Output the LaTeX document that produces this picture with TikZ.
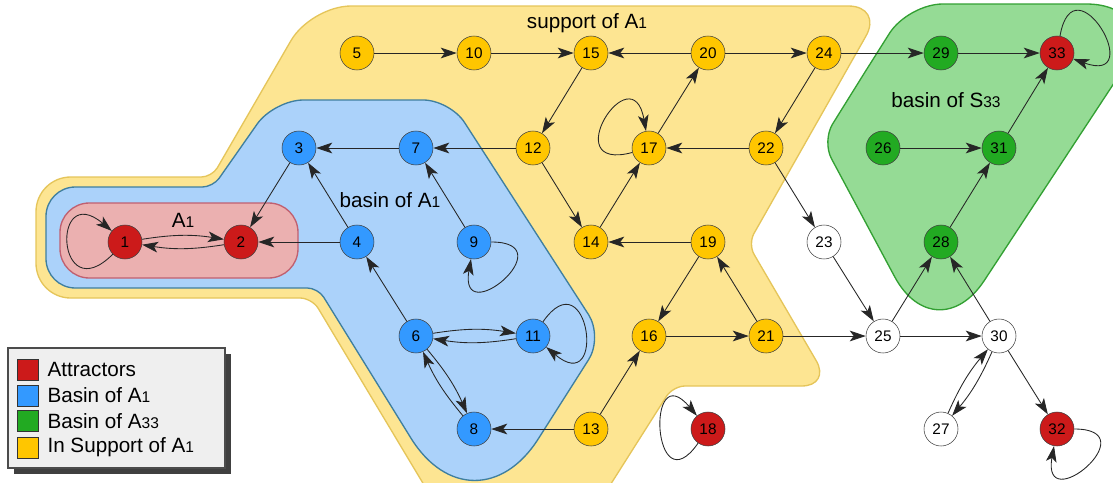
\documentclass[tikz,border=0pt]{standalone}
\usepackage{fontspec}
\usepackage{graphicx}
\setmainfont{Liberation Sans}
\usetikzlibrary{arrows.meta}
\definecolor{attred}{HTML}{CC1A1A}
\definecolor{basblue}{HTML}{3399FF}
\definecolor{grngreen}{HTML}{22AA22}
\definecolor{supyellow}{HTML}{FFC600}
\definecolor{attarea}{HTML}{EBB0B0}
\definecolor{attline}{HTML}{C06070}
\definecolor{basarea}{HTML}{ABD2FA}
\definecolor{basline}{HTML}{3F7F9F}
\definecolor{suparea}{HTML}{FDE592}
\definecolor{supline}{HTML}{E5C55A}
\definecolor{grnarea}{HTML}{95DB95}
\definecolor{grnline}{HTML}{33A033}
\definecolor{legbg}{HTML}{EFEFEF}
\newcommand{\sbs}[1]{{\scalebox{0.75}{#1}}}

\begin{document}
\begin{tikzpicture}[x=0.75pt, y=-0.75pt, >={Stealth[length=12pt,width=8pt,inset=3pt]},
    state/.style={circle, draw=black!75, minimum size=25.5pt, inner sep=0pt, font=\fontsize{11.5}{12}\selectfont},
    att/.style={state, fill=attred},
    bas/.style={state, fill=basblue},
    grn/.style={state, fill=grngreen},
    sup/.style={state, fill=supyellow},
    free/.style={state, fill=white},
    lbl/.style={font=\fontsize{15.5}{16}\selectfont},
    key/.style={draw=black!80, minimum size=15.75pt, inner sep=0pt},
    keytext/.style={font=\fontsize{15.5}{16}\selectfont, inner sep=0pt},
    every edge/.append style={line width=0.65pt, black!85}]
  \useasboundingbox (0,0) rectangle (1113,482);

  \draw[fill=suparea, draw=supline, line width=1pt]
    (36,240) [rounded corners=26pt] -- (36,177) [rounded corners=8pt] -- (212,177)
    [rounded corners=30pt] -- (311,6) [rounded corners=26pt] -- (883,6)
    [rounded corners=9pt] -- (748,244) [rounded corners=22pt] -- (831,386)
    [rounded corners=9pt] -- (673,386) [sharp corners] -- (588,520) -- (445,520)
    [rounded corners=9pt] -- (312,298) [rounded corners=26pt] -- (36,298) [sharp corners] -- cycle;
  \draw[fill=basarea, draw=basline, line width=1pt]
    (46,240) [rounded corners=22pt] -- (46,187) [rounded corners=8pt] -- (213,187)
    [rounded corners=22pt] -- (274,100) [rounded corners=20pt] -- (450,100)
    [rounded corners=20pt] -- (603,337) [rounded corners=90pt] -- (474,540)
    [rounded corners=8pt] -- (318,288) [rounded corners=22pt] -- (46,288) [sharp corners] -- cycle;
  \draw[fill=attarea, draw=attline, line width=1pt, rounded corners=22pt] (60,203) rectangle (298,278);
  \draw[fill=grnarea, draw=grnline, line width=1pt]
    (865,72) [rounded corners=26pt] -- (908,4) [rounded corners=60pt] -- (1166,4)
    [rounded corners=66pt] -- (936,354) [rounded corners=15pt] -- (822,141) [sharp corners] -- cycle;

  \node [lbl] (tsup) at (587,23) {support of A\sbs{1}};
  \node [lbl] (tbas) at (390,200) {basin of A\sbs{1}};
  \node [lbl] (tatt) at (183,220) {A\sbs{1}};
  \node [lbl] (tgrn) at (946,100) {basin of S\sbs{33}};

  \node [att] (n1) at (125,242) {1};
  \node [att] (n2) at (241,242) {2};
  \node [bas] (n3) at (299,148) {3};
  \node [bas] (n4) at (357,242) {4};
  \node [sup] (n5) at (357,53) {5};
  \node [bas] (n6) at (416,336) {6};
  \node [bas] (n7) at (416,148) {7};
  \node [bas] (n8) at (474,429) {8};
  \node [bas] (n9) at (474,242) {9};
  \node [sup] (n10) at (474,53) {10};
  \node [bas] (n11) at (533,336) {11};
  \node [sup] (n12) at (533,148) {12};
  \node [sup] (n13) at (591,429) {13};
  \node [sup] (n14) at (591,242) {14};
  \node [sup] (n15) at (591,53) {15};
  \node [sup] (n16) at (649,336) {16};
  \node [sup] (n17) at (649,148) {17};
  \node [att] (n18) at (708,429) {18};
  \node [sup] (n19) at (708,242) {19};
  \node [sup] (n20) at (708,53) {20};
  \node [sup] (n21) at (766,336) {21};
  \node [sup] (n22) at (766,148) {22};
  \node [free] (n23) at (824,242) {23};
  \node [sup] (n24) at (824,53) {24};
  \node [free] (n25) at (883,336) {25};
  \node [grn] (n26) at (883,148) {26};
  \node [free] (n27) at (941,429) {27};
  \node [grn] (n28) at (941,242) {28};
  \node [grn] (n29) at (941,53) {29};
  \node [free] (n30) at (999,336) {30};
  \node [grn] (n31) at (999,148) {31};
  \node [att] (n32) at (1057,429) {32};
  \node [att] (n33) at (1057,53) {33};

  \path[->] (n1) edge [loop, out=225, in=140, distance=60pt] (n1);
  \path[->] (n1) edge [bend left=9] (n2);
  \path[->] (n2) edge [bend left=9] (n1);
  \path[->] (n3) edge (n2);
  \path[->] (n4) edge (n2);
  \path[->] (n4) edge (n3);
  \path[->] (n6) edge (n4);
  \path[->] (n7) edge (n3);
  \path[->] (n9) edge (n7);
  \path[->] (n9) edge [loop, out=0, in=260, distance=56pt] (n9);
  \path[->] (n6) edge [bend left=9] (n11);
  \path[->] (n11) edge [bend left=9] (n6);
  \path[->] (n11) edge [loop, out=55, in=320, distance=60pt] (n11);
  \path[->] (n6) edge [bend left=8] (n8);
  \path[->] (n8) edge [bend left=8] (n6);
  \path[->] (n13) edge (n8);
  \path[->] (n13) edge (n16);
  \path[->] (n12) edge (n7);
  \path[->] (n12) edge (n14);
  \path[->] (n15) edge (n12);
  \path[->] (n5) edge (n10);
  \path[->] (n10) edge (n15);
  \path[->] (n20) edge (n15);
  \path[->] (n14) edge (n17);
  \path[->] (n17) edge (n20);
  \path[->] (n17) edge [loop, out=195, in=100, distance=60pt] (n17);
  \path[->] (n22) edge (n17);
  \path[->] (n20) edge (n24);
  \path[->] (n24) edge (n22);
  \path[->] (n22) edge (n23);
  \path[->] (n19) edge (n14);
  \path[->] (n19) edge (n16);
  \path[->] (n21) edge (n19);
  \path[->] (n16) edge (n21);
  \path[->] (n21) edge (n25);
  \path[->] (n23) edge (n25);
  \path[->] (n25) edge (n28);
  \path[->] (n25) edge (n30);
  \path[->] (n30) edge (n28);
  \path[->] (n30) edge [bend left=8] (n27);
  \path[->] (n27) edge [bend left=8] (n30);
  \path[->] (n30) edge (n32);
  \path[->] (n32) edge [loop, out=0, in=260, distance=56pt] (n32);
  \path[->] (n24) edge (n29);
  \path[->] (n29) edge (n33);
  \path[->] (n33) edge [loop, out=80, in=340, distance=60pt] (n33);
  \path[->] (n26) edge (n31);
  \path[->] (n28) edge (n31);
  \path[->] (n31) edge (n33);
  \path[->] (n18) edge [loop, out=235, in=130, distance=60pt] (n18);

  \fill [black!75] (14,354) rectangle (231,474);
  \draw [fill=legbg, draw=black!70, line width=1pt] (8,348) rectangle (225,468);
  \node [key, fill=attred, label={[keytext, label distance=6.75pt]right:Attractors}] (k1) at (27.5,369.5) {};
  \node [key, fill=basblue, label={[keytext, label distance=6.75pt]right:Basin of A\sbs{1}}] (k2) at (27.5,395.5) {};
  \node [key, fill=grngreen, label={[keytext, label distance=6.75pt]right:Basin of A\sbs{33}}] (k3) at (27.5,421) {};
  \node [key, fill=supyellow, label={[keytext, label distance=6.75pt]right:In Support of A\sbs{1}}] (k4) at (27.5,447.5) {};
\end{tikzpicture}
\end{document}
